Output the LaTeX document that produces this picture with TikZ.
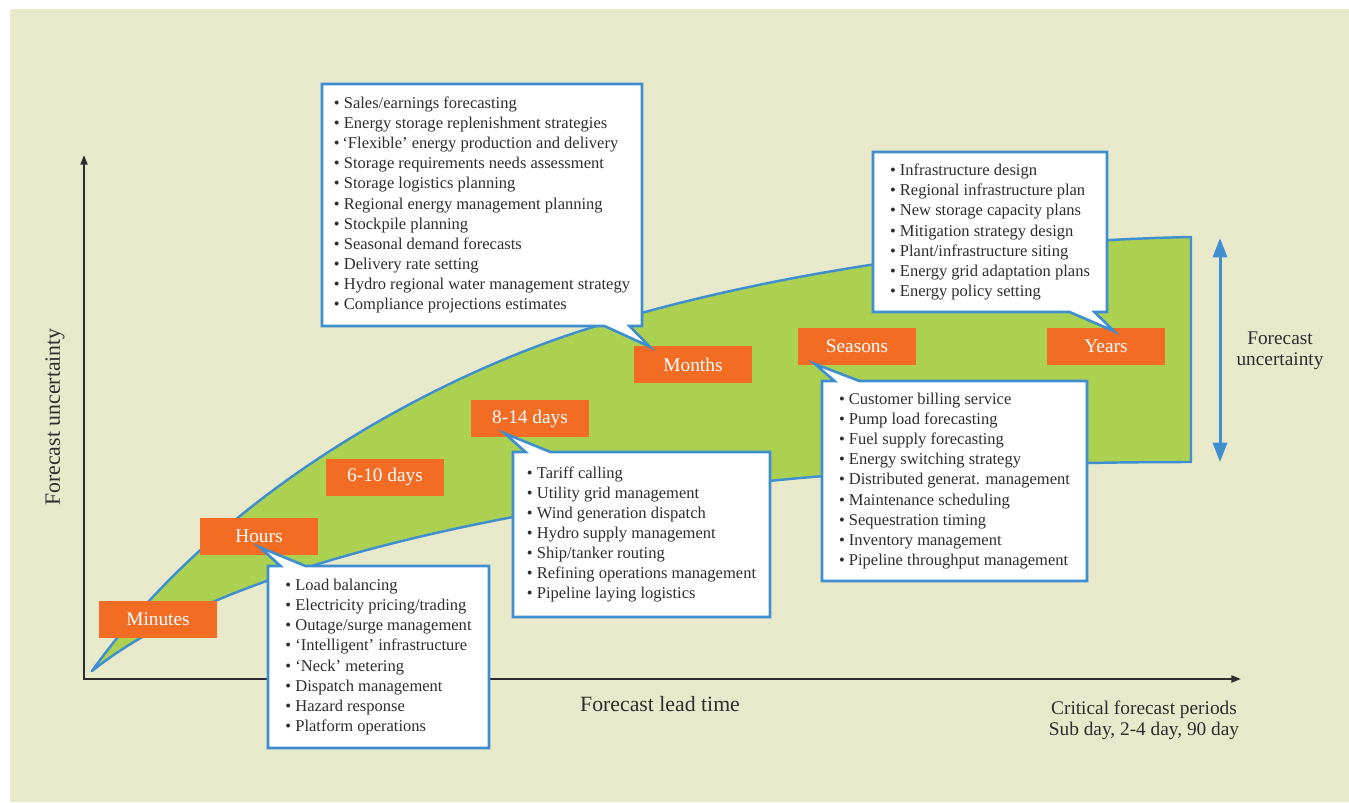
\documentclass[tikz,border=0pt]{standalone}
\usepackage{fontspec}
\setmainfont{Liberation Serif}
\usetikzlibrary{arrows.meta,shapes.callouts,calc}

\definecolor{ubeige}{RGB}{232,233,203}
\definecolor{ugreen}{RGB}{172,209,80}
\definecolor{ublue}{RGB}{62,142,208}
\definecolor{uorange}{RGB}{242,108,36}
\definecolor{utext}{RGB}{45,45,45}

\newcommand{\bul}{\textbullet\ }

\begin{document}
\begin{tikzpicture}[
  x=0.02cm, y=-0.02cm,
  period/.style={
    rectangle, fill=uorange, text=white, minimum width=2.36cm, minimum height=0.74cm,
    inner sep=0pt, font=\fontsize{11}{13}\selectfont
  },
  tasks/.style={
    rectangle callout, draw=ublue, line width=1.5pt, fill=white, text=utext,
    align=left, inner sep=0pt, callout pointer width=5mm,
    font=\fontsize{9.4}{11.45}\selectfont
  },
  axis/.style={{Triangle[length=5.5pt,width=4pt]}-{Triangle[length=5.5pt,width=4pt]}, line width=1.1pt, draw=utext},
  spread/.style={{Triangle[length=11pt,width=8pt]}-{Triangle[length=11pt,width=8pt]}, line width=1.7pt, draw=ublue},
  band/.style={fill=ugreen, draw=ublue, line width=1.4pt, line join=round},
  axislabel/.style={text=utext, font=\fontsize{12.4}{14.5}\selectfont},
  sidenote/.style={text=utext, align=center, font=\fontsize{11}{12}\selectfont}
]

% === Page and background ===
\useasboundingbox (0,0) rectangle (1349,802);
\fill[ubeige] (10,9) rectangle (1349,802);

% === Axes ===
\coordinate (orig) at (84,679);
\coordinate (ytop) at (84,155);
\coordinate (xend) at (1241,679);
\draw[axis] (ytop) -- (orig) -- (xend);

% === Uncertainty band ===
\filldraw[band] (92,671) .. controls (222,489) and (440,374.5) .. (590,328)
  .. controls (770,272) and (991,241) .. (1191,237)
  -- (1191,462)
  .. controls (941,462) and (713,479) .. (513,517)
  .. controls (403,538) and (202,583) .. (92,671) -- cycle;

% === Spread arrow ===
\coordinate (unctop) at (1220,238);
\coordinate (uncbot) at (1220,462);
\draw[spread] (unctop) -- (uncbot);

% === Time scales ===
\node[period] (mins) at (158,619.5) {Minutes};
\node[period] (hrs) at (259,536.5) {Hours};
\node[period] (d610) at (385,477) {6-10 days};
\node[period] (d814) at (530,418.5) {8-14 days};
\node[period] (mon) at (693,364.5) {Months};
\node[period] (sea) at (857,346) {Seasons};
\node[period] (yrs) at (1106,346) {Years};

% === Pointer tips ===
\coordinate (hrstip) at ($(hrs.south)+(1,-8)$);
\coordinate (d814tip) at ($(d814.south west)+(34,-4)$);
\coordinate (montip) at ($(mon.north west)+(16,1)$);
\coordinate (seatip) at ($(sea.south west)+(17,-1)$);
\coordinate (yrstip) at ($(yrs.north)+(8,4)$);

% === Task lists ===
\node[tasks, minimum width=4.42cm, minimum height=3.64cm, callout absolute pointer=(hrstip)] (hrslist) at (378.5,657)
  {\bul Load balancing\\\bul Electricity pricing/trading\\\bul Outage/surge management\\\bul `Intelligent' infrastructure\\
   \bul `Neck' metering\\\bul Dispatch management\\\bul Hazard response\\\bul Platform operations};

\node[tasks, minimum width=5.14cm, minimum height=3.3cm, callout absolute pointer=(d814tip)] (d814list) at (641.5,534.5)
  {\bul Tariff calling\\\bul Utility grid management\\\bul Wind generation dispatch\\\bul Hydro supply management\\
   \bul Ship/tanker routing\\\bul Refining operations management\\\bul Pipeline laying logistics};

\node[tasks, minimum width=6.4cm, minimum height=4.84cm, callout absolute pointer=(montip)] (monlist) at (482,205)
  {\bul Sales/earnings forecasting\\\bul Energy storage replenishment strategies\\\textbullet\,`Flexible' energy production and delivery\\
   \bul Storage requirements needs assessment\\\bul Storage logistics planning\\\bul Regional energy management planning\\
   \bul Stockpile planning\\\bul Seasonal demand forecasts\\\bul Delivery rate setting\\
   \bul Hydro regional water management strategy\\\bul Compliance projections estimates};

\node[tasks, minimum width=5.3cm, minimum height=4cm, callout absolute pointer=(seatip)] (sealist) at (954.5,481)
  {\bul Customer billing service\\\bul Pump load forecasting\\\bul Fuel supply forecasting\\\bul Energy switching strategy\\
   \bul Distributed generat. management\\\bul Maintenance scheduling\\\bul Sequestration timing\\\bul Inventory management\\
   \bul Pipeline throughput management};

\node[tasks, minimum width=4.68cm, minimum height=3.2cm, callout absolute pointer=(yrstip)] (yrslist) at (990,232)
  {\bul Infrastructure design\\\bul Regional infrastructure plan\\\bul New storage capacity plans\\\bul Mitigation strategy design\\
   \bul Plant/infrastructure siting\\\bul Energy grid adaptation plans\\\bul Energy policy setting};

% === Axis labels ===
\node[axislabel, rotate=90] (ylab) at (55,417) {Forecast uncertainty};
\node[axislabel] (xlab) at (660,704) {Forecast lead time};
\node[sidenote] (unclab) at (1280,351) {Forecast\\uncertainty};
\node[sidenote] (crit) at (1144,720) {Critical forecast periods\\Sub day, 2-4 day, 90 day};

\end{tikzpicture}
\end{document}
